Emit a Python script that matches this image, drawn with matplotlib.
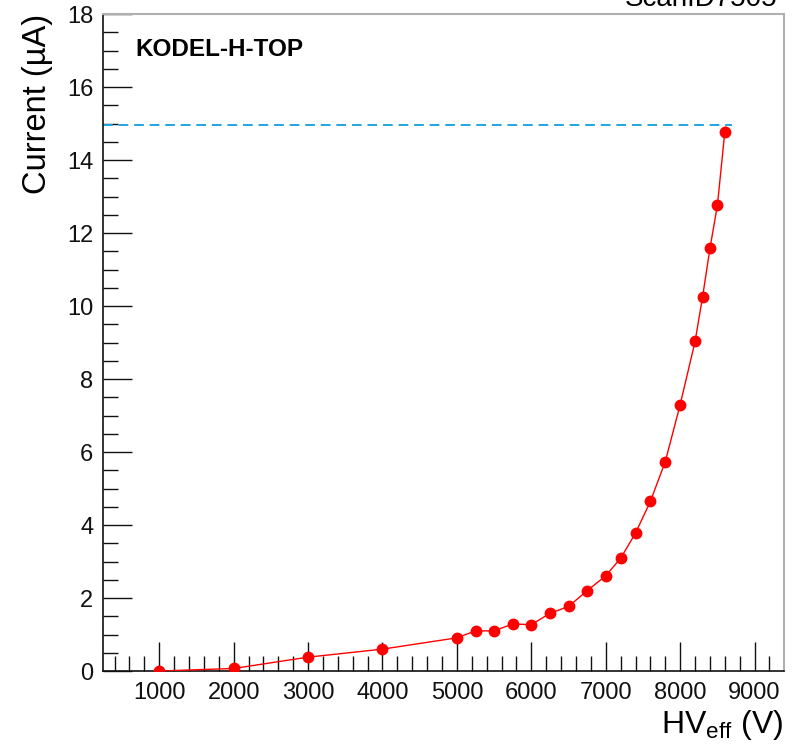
import matplotlib.pyplot as plt
from matplotlib.ticker import MultipleLocator

plt.rcParams['font.family'] = ['Liberation Sans', 'DejaVu Sans']

# HV scan points (V) and measured current (uA)
hv = [1000, 2000, 3000, 4000, 5000, 5250, 5500, 5750, 6000, 6250, 6500,
      6750, 7000, 7200, 7400, 7600, 7800, 8000, 8200, 8300, 8400, 8500, 8600]
current = [0.0, 0.07, 0.38, 0.60, 0.91, 1.10, 1.10, 1.29, 1.27, 1.58, 1.77,
           2.20, 2.61, 3.09, 3.78, 4.65, 5.74, 7.30, 9.03, 10.24, 11.58, 12.76, 14.78]
current_err = [0.02] * 22 + [0.15]

limit_current = 14.96
limit_hv_end = 8690

fig = plt.figure(figsize=(7.98, 7.47), dpi=100)
ax = fig.add_axes([0.129, 0.1017, 0.853, 0.8795])

# compliance line
ax.plot([240, limit_hv_end], [limit_current, limit_current], color='#1ea6e0',
        linestyle=(0, (5, 3)), linewidth=1.4, zorder=2)

# data
ax.plot(hv, current, color='red', linewidth=1.0, zorder=3)
ax.errorbar(hv, current, yerr=current_err, fmt='o', color='red', markersize=7.5,
            elinewidth=1.0, capsize=0, zorder=4)

ax.set_xlim(244, 9390)
ax.set_ylim(0, 18)

ax.xaxis.set_major_locator(MultipleLocator(1000))
ax.xaxis.set_minor_locator(MultipleLocator(200))
ax.yaxis.set_major_locator(MultipleLocator(2))
ax.yaxis.set_minor_locator(MultipleLocator(0.5))

ax.tick_params(axis='both', which='major', direction='in', length=21, width=1.0,
               labelsize=17, colors='#111111')
ax.tick_params(axis='both', which='minor', direction='in', length=11, width=1.0,
               colors='#111111')
ax.tick_params(axis='x', pad=8)
ax.tick_params(axis='y', pad=7)

for side in ['left', 'bottom']:
    ax.spines[side].set_color('#111111')
    ax.spines[side].set_linewidth(1.2)
for side in ['top', 'right']:
    ax.spines[side].set_color('#b0b0b0')
    ax.spines[side].set_linewidth(1.5)

ax.set_xlabel(r'HV$_{\mathregular{eff}}$ (V)', fontsize=23, loc='right', labelpad=3)
ax.set_ylabel('Current (\u00b5A)', fontsize=23.5, loc='top', labelpad=10)

ax.text(0.047, 1 - 24 / 657, 'KODEL-H-TOP', transform=ax.transAxes, fontsize=17.5,
        fontweight='bold', va='top', ha='left')

fig.text(0.974, 1 - 6 / 747, 'ScanID7505', fontsize=20, ha='right', va='baseline')

fig.savefig('out.png', dpi=100)
